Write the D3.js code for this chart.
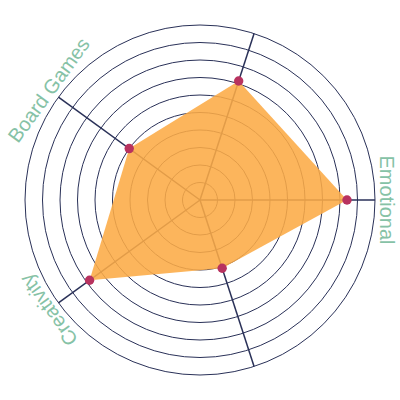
<!doctype html>
<meta charset="utf-8">
<body style="margin:0">

<div id="chart"></div>

<script src="https://d3js.org/d3.v7.min.js"></script>
<script>

// axes go counterclockwise starting at 3 o'clock
const categories = ["Emotional", "", "Board Games", "Creativity", ""]
const values = [8.4, 7.15, 5.0, 7.8, 4.1]
const ringTicks = [1, 2, 3, 4, 5, 6, 7, 8, 9, 10]

function main () {
  const width = 400
  const height = 400

  const svg = d3.select("#chart").append("svg")
    .attr("width", width)
    .attr("height", height)
    .style("font-family", "'Liberation Sans', Arial, sans-serif")

  const g = svg.append("g")
    .attr("transform", "translate(200,200)")

  const r = d3.scaleLinear()
    .domain([0, 10])
    .range([0, 175])

  // math angle, counterclockwise from east
  const theta = d3.scaleLinear()
    .domain([0, categories.length])
    .range([0, 2 * Math.PI])

  const px = (i, v) => r(v) * Math.cos(theta(i))
  const py = (i, v) => -r(v) * Math.sin(theta(i))

  g.selectAll(".ring")
    .data(ringTicks)
    .enter()
    .append("circle")
    .attr("r", d => r(d))
    .attr("fill", "none")
    .attr("stroke", "#2a3158")
    .attr("stroke-width", 1)

  g.selectAll(".spoke")
    .data(categories)
    .enter()
    .append("line")
    .attr("x1", 0)
    .attr("y1", 0)
    .attr("x2", (d, i) => px(i, 10))
    .attr("y2", (d, i) => py(i, 10))
    .attr("stroke", "#2a3158")
    .attr("stroke-width", 1.5)

  const area = d3.lineRadial()
    .angle((d, i) => Math.PI / 2 - theta(i))
    .radius(d => r(d))
    .curve(d3.curveLinearClosed)

  g.append("path")
    .datum(values)
    .attr("d", area)
    .attr("fill", "#fcab45")
    .attr("fill-opacity", 0.88)

  g.selectAll(".dot")
    .data(values)
    .enter()
    .append("circle")
    .attr("cx", (d, i) => px(i, d))
    .attr("cy", (d, i) => py(i, d))
    .attr("r", 4.7)
    .attr("fill", "#b8325f")

  g.selectAll(".label")
    .data(categories)
    .enter()
    .append("text")
    .attr("transform", (d, i) => {
      const a = theta(i)
      const x = 180 * Math.cos(a)
      const y = -180 * Math.sin(a)
      return "translate(" + x + "," + y + ") rotate(" + (90 - a * 180 / Math.PI) + ")"
    })
    .attr("text-anchor", "middle")
    .attr("font-size", 20)
    .attr("fill", "#86c2a6")
    .text(d => d)
}

main()

</script>
</body>
